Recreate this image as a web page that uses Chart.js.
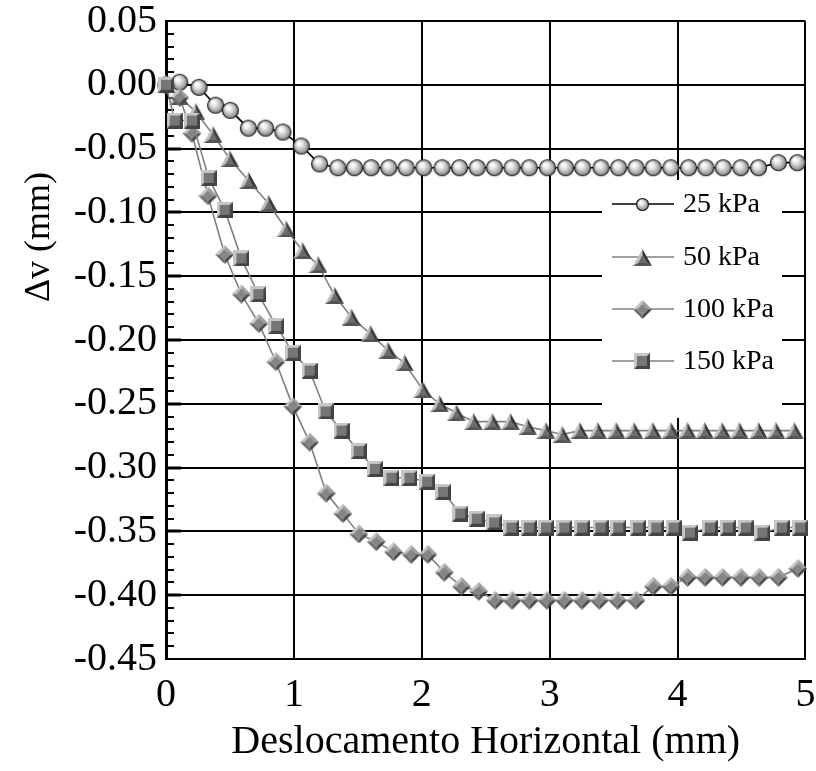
<!DOCTYPE html>
<html>
<head>
<meta charset="utf-8">
<script src="https://cdn.jsdelivr.net/npm/chart.js@4.4.1/dist/chart.umd.min.js"></script>
<style>
  html, body { margin: 0; padding: 0; background: #ffffff; }
  canvas { display: block; }
</style>
</head>
<body>
<canvas id="chart" width="816" height="771"></canvas>
<script>
// ---- Data: vertical displacement (mm) vs horizontal displacement (mm) ----
const seriesNames = ['25 kPa', '50 kPa', '100 kPa', '150 kPa'];

const disp25 = [0, 0.107, 0.258, 0.388, 0.503, 0.644, 0.779, 0.914, 1.058, 1.201,
  1.344, 1.474, 1.605, 1.742, 1.878, 2.016, 2.159, 2.295, 2.433, 2.568,
  2.706, 2.841, 2.984, 3.125, 3.258, 3.402, 3.539, 3.675, 3.810, 3.948,
  4.086, 4.222, 4.357, 4.495, 4.633, 4.789, 4.937];
const dv25 = [0, 0.002, -0.002, -0.016, -0.020, -0.034, -0.034, -0.037, -0.048, -0.062,
  -0.065, -0.065, -0.065, -0.065, -0.065, -0.065, -0.065, -0.065, -0.065, -0.065,
  -0.065, -0.065, -0.065, -0.065, -0.065, -0.065, -0.065, -0.065, -0.065, -0.065,
  -0.065, -0.065, -0.065, -0.065, -0.065, -0.061, -0.061];

const disp50 = [0, 0.100, 0.232, 0.367, 0.498, 0.645, 0.801, 0.938, 1.066, 1.188,
  1.318, 1.448, 1.597, 1.734, 1.865, 2.008, 2.138, 2.269, 2.404, 2.550,
  2.693, 2.828, 2.970, 3.097, 3.234, 3.375, 3.519, 3.659, 3.805, 3.948,
  4.076, 4.211, 4.347, 4.482, 4.633, 4.769, 4.912];
const dv50 = [0, -0.009, -0.021, -0.039, -0.058, -0.075, -0.093, -0.113, -0.130, -0.141,
  -0.165, -0.182, -0.195, -0.208, -0.218, -0.239, -0.250, -0.257, -0.264, -0.264,
  -0.264, -0.268, -0.271, -0.274, -0.271, -0.271, -0.271, -0.271, -0.271, -0.271,
  -0.271, -0.271, -0.271, -0.271, -0.271, -0.271, -0.271];

const disp100 = [0, 0.107, 0.203, 0.328, 0.459, 0.589, 0.726, 0.859, 0.992, 1.123,
  1.253, 1.383, 1.508, 1.644, 1.779, 1.917, 2.047, 2.175, 2.310, 2.445,
  2.574, 2.706, 2.841, 2.978, 3.115, 3.253, 3.388, 3.531, 3.675, 3.810,
  3.948, 4.078, 4.216, 4.352, 4.495, 4.638, 4.789, 4.941];
const dv100 = [0, -0.010, -0.038, -0.087, -0.133, -0.164, -0.187, -0.217, -0.252, -0.280,
  -0.320, -0.336, -0.352, -0.358, -0.366, -0.368, -0.368, -0.382, -0.393, -0.397,
  -0.404, -0.404, -0.404, -0.404, -0.404, -0.404, -0.404, -0.404, -0.404, -0.393,
  -0.393, -0.386, -0.386, -0.386, -0.386, -0.386, -0.386, -0.379];

const disp150 = [0, 0.068, 0.203, 0.334, 0.459, 0.589, 0.722, 0.862, 0.992, 1.123,
  1.248, 1.373, 1.507, 1.633, 1.763, 1.904, 2.042, 2.167, 2.301, 2.430,
  2.566, 2.701, 2.839, 2.972, 3.115, 3.255, 3.398, 3.537, 3.691, 3.834,
  3.970, 4.097, 4.253, 4.394, 4.534, 4.664, 4.816, 4.959];
const dv150 = [0, -0.028, -0.028, -0.073, -0.098, -0.136, -0.164, -0.189, -0.210, -0.224,
  -0.256, -0.271, -0.287, -0.301, -0.308, -0.308, -0.311, -0.319, -0.336, -0.340,
  -0.343, -0.347, -0.347, -0.347, -0.347, -0.347, -0.347, -0.347, -0.347, -0.347,
  -0.347, -0.351, -0.347, -0.347, -0.347, -0.351, -0.347, -0.347];

const xMin = 0, xMax = 5, xStep = 1;
const yMin = -0.45, yMax = 0.05, yStep = 0.05, yMinorStep = 0.01;
const xTitle = 'Deslocamento Horizontal (mm)';
const yTitle = '\u0394v (mm)';

const SERIF = "'Liberation Serif', 'Times New Roman', serif";

// ---- Shaded marker images ----
function newCanvas(w, h) {
  const c = document.createElement('canvas');
  c.width = w; c.height = h;
  return c;
}

function makeSphere(d) {
  const s = d + 2, c = newCanvas(s, s), g = c.getContext('2d');
  const cx = s / 2, r = d / 2;
  const gr = g.createRadialGradient(cx - r * 0.3, cx - r * 0.38, r * 0.05, cx, cx, r);
  gr.addColorStop(0, '#ffffff');
  gr.addColorStop(0.3, '#ececec');
  gr.addColorStop(0.75, '#a4a4a4');
  gr.addColorStop(1, '#6a6a6a');
  g.beginPath();
  g.arc(cx, cx, r - 0.5, 0, Math.PI * 2);
  g.fillStyle = gr;
  g.fill();
  g.lineWidth = 1.2;
  g.strokeStyle = '#1e1e1e';
  g.stroke();
  return c;
}

function poly(g, pts, color) {
  g.beginPath();
  g.moveTo(pts[0][0], pts[0][1]);
  for (let i = 1; i < pts.length; i++) g.lineTo(pts[i][0], pts[i][1]);
  g.closePath();
  g.fillStyle = color;
  g.fill();
}

function makeSquare(s, b) {
  const c = newCanvas(s, s), g = c.getContext('2d');
  poly(g, [[0, 0], [s, 0], [s, s], [0, s]], '#444444');
  poly(g, [[0, 0], [s, 0], [s - b, b], [b, b], [b, s - b], [0, s]], '#c6c6c6');
  poly(g, [[b, b], [s - b, b], [s - b, s - b], [b, s - b]], '#767676');
  return c;
}

function makeDiamond(d, b) {
  const c = newCanvas(d, d), g = c.getContext('2d');
  const m = d / 2;
  const T = [m, 0], R = [d, m], B = [m, d], L = [0, m];
  const t = [m, b], r = [d - b, m], bb = [m, d - b], l = [b, m];
  poly(g, [L, T, t, l], '#c4c4c4');
  poly(g, [T, R, r, t], '#9c9c9c');
  poly(g, [R, B, bb, r], '#474747');
  poly(g, [B, L, l, bb], '#6a6a6a');
  poly(g, [t, r, bb, l], '#858585');
  return c;
}

function makeTriangle(w, h, b) {
  const c = newCanvas(w, h), g = c.getContext('2d');
  const A = [w / 2, 0], Bp = [0, h], Cp = [w, h];
  const a = [w / 2, b * 2], bi = [b * 1.7, h - b], ci = [w - b * 1.7, h - b];
  poly(g, [A, Bp, bi, a], '#c0c0c0');
  poly(g, [A, a, ci, Cp], '#383838');
  poly(g, [Bp, Cp, ci, bi], '#545454');
  poly(g, [a, bi, ci], '#6c6c6c');
  return c;
}

const sphereImg = makeSphere(17);
const triImg = makeTriangle(19, 17, 3);
const diamondImg = makeDiamond(19, 4);
const squareImg = makeSquare(16, 3);
const sphereLegendImg = makeSphere(13);

function pairs(xs, ys) {
  return xs.map((x, i) => ({ x: x, y: ys[i] }));
}

// ---- Axis decorations, legend and rotated y title ----
const decorPlugin = {
  id: 'decor',
  beforeDatasetsDraw(chart) {
    const ctx = chart.ctx, area = chart.chartArea, y = chart.scales.y;
    ctx.save();
    ctx.strokeStyle = '#000000';
    // inward tick marks on the vertical axis
    const n = Math.round((yMax - yMin) / yMinorStep);
    for (let i = 1; i < n; i++) {
      const v = yMin + i * yMinorStep;
      const py = Math.round(y.getPixelForValue(v));
      const major = i % 5 === 0;
      ctx.lineWidth = major ? 3 : 2;
      ctx.beginPath();
      ctx.moveTo(area.left, py);
      ctx.lineTo(area.left + (major ? 15 : 8), py);
      ctx.stroke();
    }
    // legend panel
    ctx.fillStyle = '#ffffff';
    ctx.fillRect(602, 180, 180, 238);
    const rows = [204, 257, 309, 361];
    const imgs = [sphereLegendImg, triImg, diamondImg, squareImg];
    const lineColors = ['#000000', '#808080', '#808080', '#808080'];
    ctx.font = '28px ' + SERIF;
    ctx.textBaseline = 'middle';
    ctx.textAlign = 'left';
    rows.forEach((ry, i) => {
      ctx.strokeStyle = lineColors[i];
      ctx.lineWidth = 1.6;
      ctx.beginPath();
      ctx.moveTo(612, ry);
      ctx.lineTo(674, ry);
      ctx.stroke();
      const im = imgs[i];
      ctx.drawImage(im, Math.round(642 - im.width / 2), Math.round(ry - im.height / 2));
      ctx.fillStyle = '#000000';
      ctx.fillText(seriesNames[i], 683, ry + 1);
    });
    ctx.restore();
  },
  afterDraw(chart) {
    const ctx = chart.ctx;
    ctx.save();
    ctx.translate(40, 237);
    ctx.rotate(-Math.PI / 2);
    ctx.font = '36px ' + SERIF;
    ctx.fillStyle = '#000000';
    ctx.textAlign = 'center';
    ctx.textBaseline = 'middle';
    ctx.fillText(yTitle, 0, 0);
    ctx.restore();
  }
};

const common = {
  showLine: true,
  borderWidth: 1.6,
  pointRadius: 9,
  pointHoverRadius: 9,
  clip: false
};

new Chart(document.getElementById('chart'), {
  type: 'scatter',
  data: {
    datasets: [
      Object.assign({ label: seriesNames[0], data: pairs(disp25, dv25), borderColor: '#000000', pointStyle: sphereImg, order: 3 }, common),
      Object.assign({ label: seriesNames[1], data: pairs(disp50, dv50), borderColor: '#808080', pointStyle: triImg, order: 2 }, common),
      Object.assign({ label: seriesNames[2], data: pairs(disp100, dv100), borderColor: '#808080', pointStyle: diamondImg, order: 1 }, common),
      Object.assign({ label: seriesNames[3], data: pairs(disp150, dv150), borderColor: '#808080', pointStyle: squareImg, order: 0 }, common)
    ]
  },
  options: {
    responsive: false,
    animation: false,
    devicePixelRatio: 1,
    layout: { padding: { top: 21, right: 10, bottom: 0, left: 0 } },
    plugins: {
      legend: { display: false },
      tooltip: { enabled: false }
    },
    scales: {
      x: {
        type: 'linear',
        min: xMin, max: xMax,
        afterFit(scale) { scale.height = 112; },
        ticks: {
          stepSize: xStep,
          color: '#000000',
          font: { family: SERIF, size: 40, lineHeight: 1 },
          padding: 0,
          maxRotation: 0,
          callback: (v) => String(v)
        },
        grid: { color: '#000000', lineWidth: 2, drawTicks: true, tickLength: 16, tickColor: 'rgba(0,0,0,0)' },
        border: { color: '#000000', width: 2 },
        title: {
          display: true,
          text: xTitle,
          color: '#000000',
          font: { family: SERIF, size: 40, lineHeight: 1.2 },
          padding: { top: 0, bottom: 5 }
        }
      },
      y: {
        type: 'linear',
        min: yMin, max: yMax,
        afterFit(scale) { scale.width = 166; },
        ticks: {
          stepSize: yStep,
          color: '#000000',
          font: { family: SERIF, size: 40, lineHeight: 1 },
          padding: 0,
          callback: (v) => (Math.abs(v) < 1e-9 ? '0.00' : Number(v).toFixed(2))
        },
        grid: { color: '#000000', lineWidth: 2, drawTicks: true, tickLength: 9, tickColor: 'rgba(0,0,0,0)' },
        border: { color: '#000000', width: 3 }
      }
    }
  },
  plugins: [decorPlugin]
});
</script>
</body>
</html>
